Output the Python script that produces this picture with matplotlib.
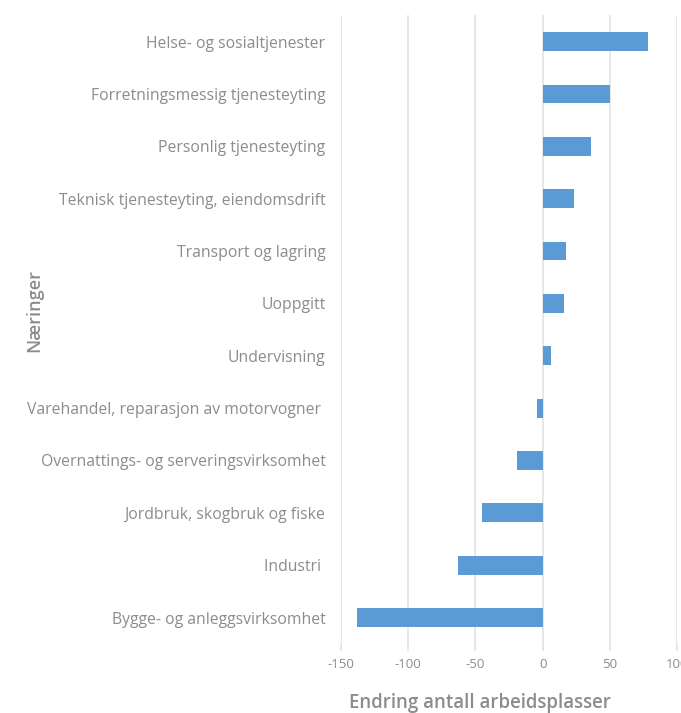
import numpy as np
import matplotlib
matplotlib.use("Agg")
import matplotlib.pyplot as plt

# Data
naeringer = [
    "Helse- og sosialtjenester",
    "Forretningsmessig tjenesteyting",
    "Personlig tjenesteyting",
    "Teknisk tjenesteyting, eiendomsdrift",
    "Transport og lagring",
    "Uoppgitt",
    "Undervisning",
    "Varehandel, reparasjon av motorvogner ",
    "Overnattings- og serveringsvirksomhet",
    "Jordbruk, skogbruk og fiske",
    "Industri ",
    "Bygge- og anleggsvirksomhet",
]
endring = [78, 50, 36, 23, 17, 16, 6, -4, -19, -45, -63, -138]
x_ticks = [-150, -100, -50, 0, 50, 100]

plt.rcParams['font.family'] = ['Open Sans', 'DejaVu Sans']
grey = '#8c8c8c'

fig = plt.figure(figsize=(6.81, 7.13), dpi=100)
ax = fig.add_axes([0.5003, 0.0972, 0.4943, 0.8811])

y = np.arange(len(naeringer))
ax.barh(y, endring, height=0.36, color='#5b9bd5', zorder=3)

ax.set_xlim(-150, 100)
ax.set_ylim(len(naeringer) - 0.5, -0.5)
ax.set_xticks(x_ticks)
ax.set_xticklabels([str(t) for t in x_ticks])
ax.set_yticks(y)
ax.set_yticklabels(naeringer)

ax.grid(axis='x', color='#e3e3e3', linewidth=1.2, zorder=0)
for s in ax.spines.values():
    s.set_visible(False)

ax.tick_params(axis='y', length=0, pad=11, labelsize=11.3, labelcolor=grey)
ax.tick_params(axis='x', length=5, color='#e3e3e3', width=1.2, pad=5,
               labelsize=9.5, labelcolor=grey)

ax.set_xlabel("Endring antall arbeidsplasser", fontsize=13.4, color=grey,
              fontweight='semibold', va='center')
ax.xaxis.set_label_coords(0.414, -0.094)
fig.text(0.051, 0.565, "Næringer", rotation=90, fontsize=13, color=grey,
         fontweight='semibold', ha='center', va='center')

fig.savefig("out.png", dpi=100)
